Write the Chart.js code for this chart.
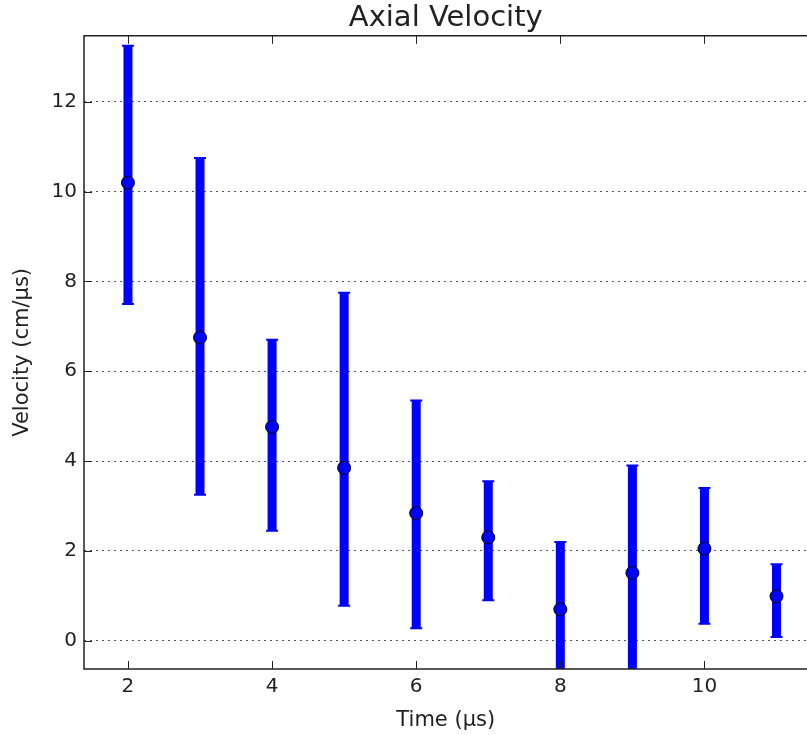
<!DOCTYPE html>
<html lang="en">
<head>
  <meta charset="UTF-8">
  <title>Axial Velocity</title>
  <script src="https://cdn.jsdelivr.net/npm/chart.js"></script>
  <style>
    html, body { margin: 0; padding: 0; background: #fff; }
    /* the plot runs off the right edge in the original, so the canvas is a bit wider than the view */
    #wrap { width: 807px; height: 735px; overflow: hidden; }
  </style>
</head>
<body>
  <div id="wrap"><canvas id="velocity_chart" width="815" height="735"></canvas></div>

  <script>
    // Data
    const times = [2, 3, 4, 5, 6, 7, 8, 9, 10, 11];
    const velocity = [10.2, 6.75, 4.76, 3.85, 2.84, 2.3, 0.7, 1.51, 2.05, 0.99];
    const errLow = [7.5, 3.25, 2.45, 0.78, 0.28, 0.9, -0.8, -0.9, 0.38, 0.08];
    const errHigh = [13.25, 10.75, 6.7, 7.75, 5.35, 3.55, 2.2, 3.9, 3.4, 1.7];
    const xTicks = [2, 4, 6, 8, 10];
    const yTicks = [0, 2, 4, 6, 8, 10, 12];

    const font = 'DejaVu Sans';

    // error bars under the markers, axes frame and inward ticks on top
    const errorBarPlugin = {
      id: 'errorBars',
      beforeDatasetsDraw(chart) {
        const {ctx, chartArea, scales: {x, y}} = chart;
        ctx.save();
        ctx.beginPath();
        ctx.rect(chartArea.left, chartArea.top, chartArea.right - chartArea.left, chartArea.bottom - chartArea.top);
        ctx.clip();
        ctx.strokeStyle = '#0000ff';
        times.forEach((t, i) => {
          const px = x.getPixelForValue(t);
          const top = y.getPixelForValue(errHigh[i]);
          const bot = y.getPixelForValue(errLow[i]);
          ctx.lineWidth = 9;
          ctx.beginPath();
          ctx.moveTo(px, top);
          ctx.lineTo(px, bot);
          ctx.stroke();
          ctx.lineWidth = 2;
          ctx.beginPath();
          ctx.moveTo(px - 6, top); ctx.lineTo(px + 6, top);
          ctx.moveTo(px - 6, bot); ctx.lineTo(px + 6, bot);
          ctx.stroke();
        });
        ctx.restore();
      },
      afterDatasetsDraw(chart) {
        const {ctx, chartArea, scales: {x, y}} = chart;
        const {left, right, top, bottom} = chartArea;
        ctx.save();
        ctx.strokeStyle = '#222';
        ctx.lineWidth = 1.5;
        ctx.beginPath();
        ctx.moveTo(right + 8, top); ctx.lineTo(left, top);
        ctx.lineTo(left, bottom); ctx.lineTo(right + 8, bottom);
        ctx.stroke();
        ctx.lineWidth = 1;
        ctx.beginPath();
        xTicks.forEach(v => {
          const px = Math.round(x.getPixelForValue(v)) + 0.5;
          ctx.moveTo(px, bottom); ctx.lineTo(px, bottom - 8);
          ctx.moveTo(px, top); ctx.lineTo(px, top + 8);
        });
        yTicks.forEach(v => {
          const py = Math.round(y.getPixelForValue(v)) + 0.5;
          ctx.moveTo(left, py); ctx.lineTo(left + 8, py);
        });
        ctx.stroke();
        ctx.restore();
      }
    };

    new Chart(document.getElementById('velocity_chart'), {
      type: 'scatter',
      data: {
        datasets: [{
          data: times.map((t, i) => ({x: t, y: velocity[i]})),
          backgroundColor: '#0000ff',
          borderColor: '#000',
          borderWidth: 1,
          pointRadius: 6.5,
          pointHoverRadius: 6.5
        }]
      },
      options: {
        responsive: false,
        animation: false,
        layout: { padding: 0 },
        plugins: {
          legend: { display: false },
          tooltip: { enabled: false },
          title: {
            display: true,
            text: 'Axial Velocity',
            fullSize: false,
            color: '#222',
            font: { family: font, size: 29, weight: 'normal' },
            padding: { top: 1, bottom: 0 }
          }
        },
        scales: {
          x: {
            type: 'linear',
            min: 1.39,
            max: 11.43,
            afterFit: s => { s.height = 66; s.paddingLeft = 0; s.paddingRight = 0; },
            afterBuildTicks: s => { s.ticks = xTicks.map(v => ({value: v})); },
            grid: { display: false, drawTicks: false },
            border: { display: false },
            ticks: { color: '#222', padding: 6, font: { family: font, size: 20 } },
            title: {
              display: true,
              text: 'Time (μs)',
              color: '#222',
              font: { family: font, size: 21 },
              padding: { top: 0, bottom: 2 }
            }
          },
          y: {
            type: 'linear',
            min: -0.63,
            max: 13.47,
            afterFit: s => { s.width = 84; s.paddingTop = 0; s.paddingBottom = 0; },
            afterBuildTicks: s => { s.ticks = yTicks.map(v => ({value: v})); },
            grid: { color: '#555', lineWidth: 1, drawTicks: false },
            border: { display: false, dash: [2, 4] },
            ticks: { color: '#222', padding: 7, font: { family: font, size: 20 } },
            title: {
              display: true,
              text: 'Velocity (cm/μs)',
              color: '#222',
              font: { family: font, size: 21 },
              padding: { top: 10, bottom: 0 }
            }
          }
        }
      },
      plugins: [errorBarPlugin]
    });
  </script>
</body>
</html>
